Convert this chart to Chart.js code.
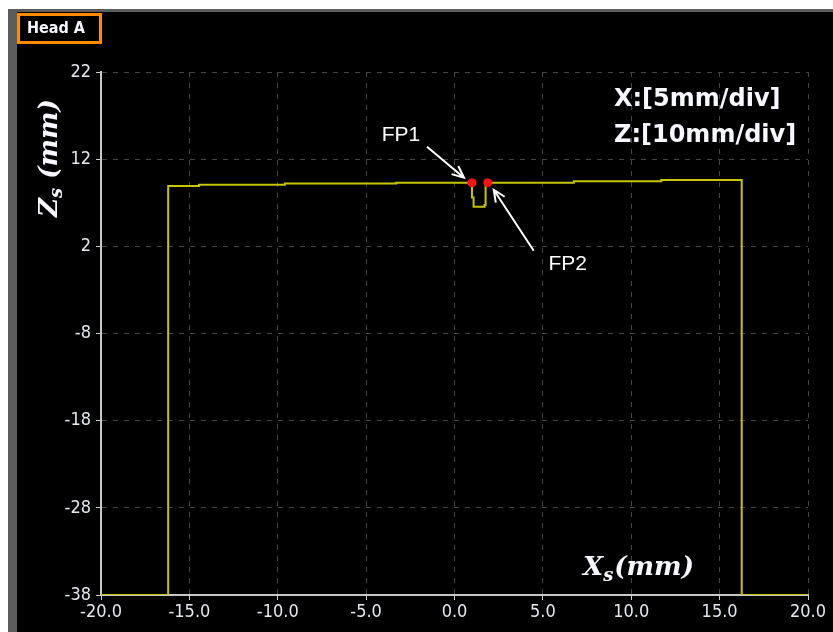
<!DOCTYPE html>
<html>
<head>
<meta charset="utf-8">
<script src="https://cdn.jsdelivr.net/npm/chart.js@4/dist/chart.umd.min.js"></script>
<style>
  html, body { margin: 0; padding: 0; background: #fff; }
  #profileChart { display: block; }
</style>
</head>
<body>
<canvas id="profileChart" width="833" height="632"></canvas>
<script>
// Surface profile of Head A (step outline)
const profileX = [-20, -16.2, -16.2, -14.45, -14.45, -9.6, -9.6, -3.3, -3.3, 0.99, 0.99, 1.08, 1.08, 1.7, 1.7, 1.76, 1.76, 6.75, 6.75, 11.7, 11.7, 16.25, 16.25, 20];
const profileZ = [-38, -38, 8.92, 8.92, 9.07, 9.07, 9.2, 9.2, 9.3, 9.3, 7.6, 7.6, 6.55, 6.55, 6.75, 6.75, 9.3, 9.3, 9.46, 9.46, 9.61, 9.61, -38, -38];

// feature points
const fpNames = ["FP1", "FP2"];
const fpX = [0.99, 1.88];
const fpZ = [9.3, 9.3];

// axis ranges
const xMin = -20, xMax = 20, xStep = 5;
const zMin = -38, zMax = 22, zStep = 10;

const headLabel = "Head A";
const scaleNotes = ["X:[5mm/div]", "Z:[10mm/div]"];

const tickFont = { family: "'DejaVu Sans Condensed', 'DejaVu Sans', sans-serif", size: 18 };
const tickColor = "#e6e8f0";

// frame around the plot (white page, grey bars, black panel)
const framePlugin = {
  id: "frame",
  beforeDraw(chart) {
    const c = chart.ctx;
    c.save();
    c.fillStyle = "#ffffff";
    c.fillRect(0, 0, chart.width, chart.height);
    c.fillStyle = "#5c5c5c";
    c.fillRect(8, 9, chart.width - 8, 3);
    c.fillRect(8, 9, 9, chart.height - 9);
    c.fillStyle = "#000000";
    c.fillRect(17, 12, chart.width - 17, chart.height - 12);
    c.restore();
  }
};

function arrow(c, x0, y0, x1, y1) {
  const a = Math.atan2(y1 - y0, x1 - x0);
  const len = 13, spread = 0.42;
  c.beginPath();
  c.moveTo(x0, y0);
  c.lineTo(x1, y1);
  c.moveTo(x1 - len * Math.cos(a - spread), y1 - len * Math.sin(a - spread));
  c.lineTo(x1, y1);
  c.lineTo(x1 - len * Math.cos(a + spread), y1 - len * Math.sin(a + spread));
  c.stroke();
}

// labels, axis titles, FP callouts
const overlayPlugin = {
  id: "overlay",
  afterDraw(chart) {
    const c = chart.ctx;
    const xs = chart.scales.x, ys = chart.scales.y;
    c.save();

    // Head A tag
    c.strokeStyle = "#ff8c00";
    c.lineWidth = 3;
    c.strokeRect(18.5, 14.5, 82, 28);
    c.fillStyle = "#f4f6ff";
    c.font = "bold 16px 'DejaVu Sans Condensed', 'DejaVu Sans', sans-serif";
    c.textBaseline = "middle";
    c.textAlign = "left";
    c.fillText(headLabel, 27, 29);

    // div notes
    c.font = "bold 24px 'DejaVu Sans', sans-serif";
    c.textBaseline = "alphabetic";
    c.fillStyle = "#f8f8ff";
    c.fillText(scaleNotes[0], 614, 106);
    c.fillText(scaleNotes[1], 614, 142);

    // y title  Z_s (mm), rotated
    const big = "italic bold 26px 'DejaVu Serif', serif";
    const sub = "italic bold 18px 'DejaVu Serif', serif";
    c.save();
    c.translate(57, 158);
    c.rotate(-Math.PI / 2);
    c.font = big; const wZ = c.measureText("Z").width; const wP = c.measureText(" (mm)").width;
    c.font = sub; const wS = c.measureText("s").width;
    let x = -(wZ + wS + wP) / 2;
    c.font = big; c.fillText("Z", x, 0); x += wZ;
    c.font = sub; c.fillText("s", x, 5); x += wS;
    c.font = big; c.fillText(" (mm)", x, 0);
    c.restore();

    // x title  X_s(mm)
    let tx = 583;
    c.font = big; c.fillText("X", tx, 575); tx += c.measureText("X").width;
    c.font = sub; c.fillText("s", tx, 581); tx += c.measureText("s").width + 1;
    c.font = big; c.fillText("(mm)", tx, 575);

    // FP callouts
    c.strokeStyle = "#ffffff";
    c.fillStyle = "#ffffff";
    c.lineWidth = 2;
    c.font = "21px 'Liberation Sans', Arial, sans-serif";
    c.textAlign = "center";
    c.textBaseline = "middle";
    const callouts = [
      { lx: -71, ly: -47, a0: [-45, -36], a1: [-8, -5] },
      { lx: 80, ly: 82, a0: [46, 68], a1: [6, 7] }
    ];
    fpNames.forEach((name, i) => {
      const px = xs.getPixelForValue(fpX[i]);
      const py = ys.getPixelForValue(fpZ[i]);
      const o = callouts[i];
      c.fillText(name, px + o.lx, py + o.ly);
      arrow(c, px + o.a0[0], py + o.a0[1], px + o.a1[0], py + o.a1[1]);
    });
    c.restore();
  }
};

const ctx = document.getElementById("profileChart").getContext("2d");
new Chart(ctx, {
  type: "scatter",
  data: {
    datasets: [
      {
        label: "Feature points",
        data: fpX.map((v, i) => ({ x: v, y: fpZ[i] })),
        backgroundColor: "#ff1010",
        borderColor: "#ff1010",
        pointRadius: 4,
        order: 0
      },
      {
        label: "Profile",
        data: profileX.map((v, i) => ({ x: v, y: profileZ[i] })),
        showLine: true,
        borderColor: "#c8c400",
        borderWidth: 2,
        pointRadius: 0,
        tension: 0,
        order: 1
      }
    ]
  },
  options: {
    responsive: false,
    animation: false,
    devicePixelRatio: 1,
    layout: { padding: { left: 0, right: 25, top: 72, bottom: 0 } },
    plugins: {
      legend: { display: false },
      tooltip: { enabled: false },
      title: { display: false }
    },
    scales: {
      x: {
        type: "linear",
        min: xMin, max: xMax,
        afterFit: s => { s.height = 37; },
        ticks: {
          stepSize: xStep,
          color: tickColor,
          font: tickFont,
          padding: 2,
          maxRotation: 0,
          callback: v => v.toFixed(1)
        },
        grid: { color: "#454545", tickColor: "#d0d0d0", tickLength: 5, lineWidth: 1 },
        border: { color: "#c8c8c8", width: 2, dash: [5, 6] }
      },
      y: {
        type: "linear",
        min: zMin, max: zMax,
        afterFit: s => { s.width = 101; },
        ticks: {
          stepSize: zStep,
          color: tickColor,
          font: tickFont,
          padding: 5
        },
        grid: { color: "#454545", tickColor: "#d0d0d0", tickLength: 5, lineWidth: 1 },
        border: { color: "#c8c8c8", width: 2, dash: [5, 6] }
      }
    }
  },
  plugins: [framePlugin, overlayPlugin]
});
</script>
</body>
</html>
